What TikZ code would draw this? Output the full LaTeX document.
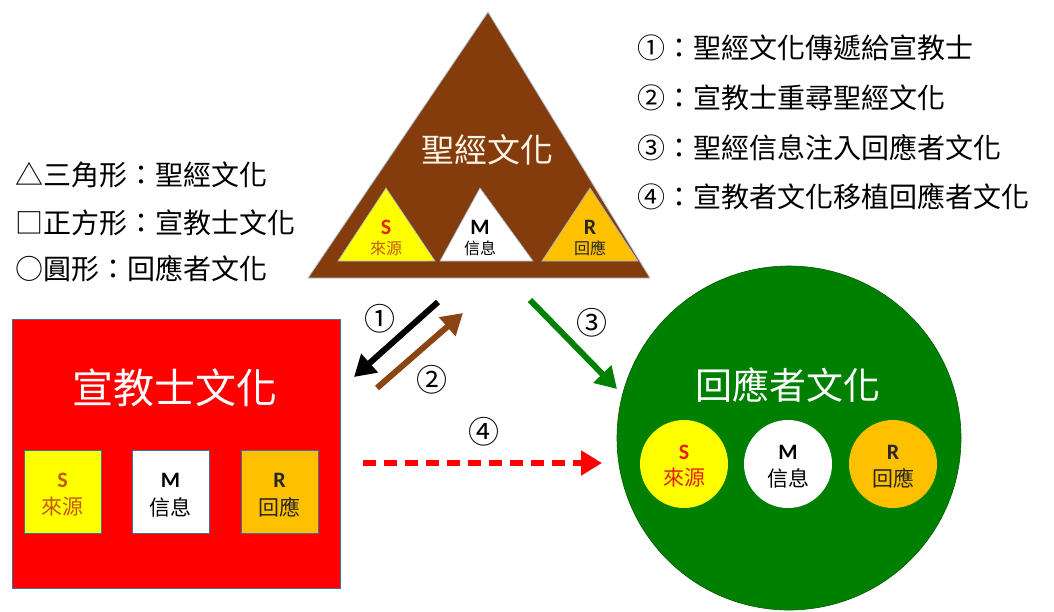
\documentclass[tikz,border=0pt]{standalone}
\usepackage{fontspec}
\setmainfont{Carlito}
\newfontfamily\cjk{Noto Sans CJK TC}
\usetikzlibrary{arrows.meta}
\definecolor{brownT}{HTML}{843C0C}
\definecolor{yel}{HTML}{FFFF00}
\definecolor{org}{HTML}{FFC000}
\definecolor{grn}{HTML}{008000}
\definecolor{edge}{HTML}{41719C}
\definecolor{cream}{HTML}{FBF3E4}
\definecolor{sred}{HTML}{E8200C}
\definecolor{sorg}{HTML}{C55A11}
\definecolor{rdark}{HTML}{262626}
\definecolor{arrbrown}{HTML}{8B4513}
\newcommand{\fsz}[1]{\fontsize{#1}{#1}\selectfont}
\begin{document}
\begin{tikzpicture}[x=1pt,y=-1pt,
  every node/.style={inner sep=0pt,outer sep=0pt},
  legend/.style={anchor=west,font=\cjk\fsz{28},text=black},
  title/.style={font=\cjk\fsz{#1},text=cream},
  letter/.style={font=\bfseries\fsz{22}},
  sub/.style={font=\cjk\fsz{#1}},
  num/.style={font=\cjk\fsz{31},text=black},
  flow/.style={line width=6pt,-{Triangle[length=21pt,width=24pt]}},
  shapeedge/.style={draw=edge,line width=0.8pt}]
\useasboundingbox[fill=white] (0,0) rectangle (1054,611);

% legends
\node[legend] (l1) at (15,175) {△三角形：聖經文化};
\node[legend] (l2) at (15,223) {□正方形：宣教士文化};
\node[legend] (l3) at (15,269) {○圓形：回應者文化};
\node[legend] (r1) at (637,48) {①：聖經文化傳遞給宣教士};
\node[legend] (r2) at (637,98) {②：宣教士重尋聖經文化};
\node[legend] (r3) at (637,148) {③：聖經信息注入回應者文化};
\node[legend] (r4) at (637,197) {④：宣教者文化移植回應者文化};

% big triangle
\coordinate (tA) at (488,12);
\coordinate (tL) at (308,278);
\coordinate (tR) at (650,278);
\filldraw[fill=brownT,draw=edge!40,line width=0.8pt] (tA)--(tL)--(tR)--cycle;
\node[title=33] (ttl) at (487,150) {聖經文化};
\filldraw[fill=yel,draw=edge!50,line width=0.6pt] (386,188)--(338,261)--(435,261)--cycle;
\filldraw[fill=white,draw=edge!50,line width=0.6pt] (480,188)--(440,261)--(533,261)--cycle;
\filldraw[fill=org,draw=edge!50,line width=0.6pt] (590,188)--(542,261)--(638,261)--cycle;
\node[letter,text=sred] (ts) at (386,227) {S};
\node[sub=16,text=sorg] (tsz) at (386,248) {來源};
\node[letter,text=black] (tm) at (480,227) {M};
\node[sub=16,text=black] (tmz) at (480,248) {信息};
\node[letter,text=rdark] (tr) at (590,227) {R};
\node[sub=16,text=rdark] (trz) at (590,248) {回應};

% red rectangle
\node[shapeedge,fill=red,minimum width=328pt,minimum height=269pt] (mis) at (176,453.5) {};
\node[title=41,text=white] (mtl) at (175,388) {宣教士文化};
\node[shapeedge,fill=yel,minimum width=77pt,minimum height=83pt] (sq1) at (62.5,491.5) {};
\node[shapeedge,fill=white,minimum width=77pt,minimum height=83pt] (sq2) at (170.5,491.5) {};
\node[shapeedge,fill=org,minimum width=77pt,minimum height=83pt] (sq3) at (279.5,491.5) {};
\node[letter,text=sorg] (ss) at (62.5,480) {S};
\node[sub=21,text=sorg] (ssz) at (62.5,507) {來源};
\node[letter,text=black] (sm) at (170.5,480) {M};
\node[sub=21,text=black] (smz) at (170.5,507) {信息};
\node[letter,text=rdark] (sr) at (279.5,480) {R};
\node[sub=21,text=rdark] (srz) at (279.5,507) {回應};

% green circle
\node[circle,fill=grn,draw=grn!70!black,line width=0.6pt,minimum size=344pt] (res) at (789,438) {};
\node[title=37,text=white] (rtl) at (788,385) {回應者文化};
\node[circle,fill=yel,minimum size=88pt] (c1) at (684,464) {};
\node[circle,fill=white,minimum size=88pt] (c2) at (788,464) {};
\node[circle,fill=org,minimum size=88pt] (c3) at (893,464) {};
\node[letter,text=sred] (cs) at (684,452) {S};
\node[sub=21,text=sred] (csz) at (684,478) {來源};
\node[letter,text=black] (cm) at (788,452) {M};
\node[sub=21,text=black] (cmz) at (788,478) {信息};
\node[letter,text=rdark] (cr) at (893,452) {R};
\node[sub=21,text=rdark] (crz) at (893,478) {回應};

% arrows
\coordinate (a1s) at (438,302); \coordinate (a1e) at (354,377);
\coordinate (a2s) at (377,388); \coordinate (a2e) at (463,313);
\coordinate (a3s) at (530,300); \coordinate (a3e) at (617,389);
\coordinate (a4s) at (363,463); \coordinate (a4e) at (602,463);
\draw[flow,black] (a1s) -- (a1e);
\draw[flow,arrbrown] (a2s) -- (a2e);
\draw[flow,grn] (a3s) -- (a3e);
\draw[flow,red,dash pattern=on 13pt off 8pt] (a4s) -- (a4e);
\node[num] (n1) at (380,319) {①};
\node[num] (n2) at (432,380) {②};
\node[num] (n3) at (592,323) {③};
\node[num] (n4) at (484,432) {④};
\end{tikzpicture}
\end{document}
